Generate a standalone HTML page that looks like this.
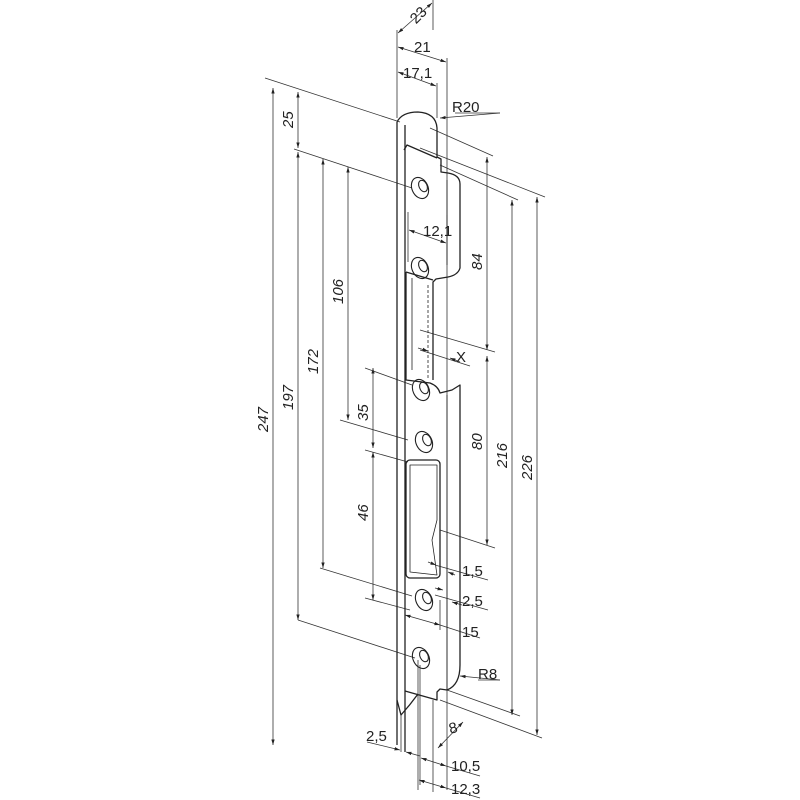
<!DOCTYPE html>
<html><head><meta charset="utf-8"><style>
html,body{margin:0;padding:0;background:#fff}
svg{display:block}
text{font-family:"Liberation Sans",sans-serif;font-size:15px;fill:#222}
</style></head><body>
<svg width="800" height="800" viewBox="0 0 800 800" xmlns="http://www.w3.org/2000/svg">
<defs>
<marker id="a" viewBox="0 0 10 10" refX="10" refY="5" markerWidth="7" markerHeight="7" orient="auto-start-reverse"><path d="M0,2 L10,5 L0,8 z" fill="#222"/></marker>
</defs>
<g stroke="#333" stroke-width="0.8" fill="none">
<!-- top dims -->
<line x1="397" y1="30" x2="397" y2="118"/>
<line x1="433" y1="0" x2="433" y2="30"/>
<line x1="398" y1="33" x2="432" y2="3" marker-start="url(#a)" marker-end="url(#a)"/>
<line x1="447" y1="58" x2="447" y2="700"/>
<line x1="398" y1="47" x2="446" y2="62" marker-start="url(#a)" marker-end="url(#a)"/>
<line x1="437" y1="83" x2="437" y2="118"/>
<line x1="398" y1="72" x2="436" y2="86" marker-start="url(#a)" marker-end="url(#a)"/>
<line x1="500" y1="113" x2="440" y2="118" marker-end="url(#a)"/>
<line x1="455" y1="113" x2="500" y2="113"/>
<!-- left vertical dims -->
<line x1="273" y1="88" x2="273" y2="745" marker-start="url(#a)" marker-end="url(#a)"/>
<line x1="298" y1="92" x2="298" y2="148" marker-start="url(#a)" marker-end="url(#a)"/>
<line x1="298" y1="152" x2="298" y2="620" marker-start="url(#a)" marker-end="url(#a)"/>
<line x1="323" y1="159" x2="323" y2="568" marker-start="url(#a)" marker-end="url(#a)"/>
<line x1="348" y1="167" x2="348" y2="420" marker-start="url(#a)" marker-end="url(#a)"/>
<line x1="373" y1="368" x2="373" y2="448" marker-start="url(#a)" marker-end="url(#a)"/>
<line x1="373" y1="452" x2="373" y2="600" marker-start="url(#a)" marker-end="url(#a)"/>
<!-- left extension lines -->
<line x1="265" y1="78" x2="400" y2="122"/>
<line x1="294" y1="149" x2="412" y2="188"/>
<line x1="340" y1="420" x2="408" y2="440"/>
<line x1="365" y1="368" x2="412" y2="385"/>
<line x1="365" y1="450" x2="408" y2="462"/>
<line x1="320" y1="568" x2="412" y2="596"/>
<line x1="365" y1="598" x2="410" y2="610"/>
<line x1="298" y1="620" x2="415" y2="658"/>
<!-- right extension lines -->
<line x1="430" y1="128" x2="493" y2="156"/>
<line x1="420" y1="148" x2="545" y2="197"/>
<line x1="440" y1="165" x2="518" y2="200"/>
<line x1="420" y1="330" x2="495" y2="352"/>
<line x1="440" y1="530" x2="495" y2="548"/>
<line x1="447" y1="690" x2="520" y2="716"/>
<line x1="440" y1="700" x2="542" y2="738"/>
<!-- right vertical dims -->
<line x1="487" y1="157" x2="487" y2="350" marker-start="url(#a)" marker-end="url(#a)"/>
<line x1="487" y1="356" x2="487" y2="545" marker-start="url(#a)" marker-end="url(#a)"/>
<line x1="512" y1="200" x2="512" y2="715" marker-start="url(#a)" marker-end="url(#a)"/>
<line x1="537" y1="197" x2="537" y2="735" marker-start="url(#a)" marker-end="url(#a)"/>
<!-- 12,1 -->
<line x1="408" y1="212" x2="408" y2="262"/>
<line x1="447" y1="215" x2="447" y2="260"/>
<line x1="409" y1="230" x2="446" y2="243" marker-start="url(#a)" marker-end="url(#a)"/>
<!-- X -->
<line x1="420" y1="350" x2="470" y2="366"/>
<line x1="418" y1="348" x2="428" y2="351" marker-end="url(#a)"/>
<line x1="460" y1="362" x2="450" y2="358" marker-end="url(#a)"/>
<!-- 1,5 / 2,5 / 15 -->
<line x1="435" y1="565" x2="488" y2="580"/>
<line x1="428" y1="562" x2="436" y2="565" marker-end="url(#a)"/>
<line x1="455" y1="575" x2="448" y2="572" marker-end="url(#a)"/>
<line x1="435" y1="595" x2="488" y2="610"/>
<line x1="435" y1="588" x2="443" y2="590" marker-end="url(#a)"/>
<line x1="462" y1="605" x2="452" y2="602" marker-end="url(#a)"/>
<line x1="405" y1="615" x2="440" y2="625" marker-start="url(#a)" marker-end="url(#a)"/>
<line x1="440" y1="625" x2="480" y2="638"/>
<line x1="440" y1="600" x2="440" y2="630"/>
<!-- R8 -->
<line x1="500" y1="680" x2="460" y2="676" marker-end="url(#a)"/>
<line x1="478" y1="680" x2="500" y2="680"/>
<!-- bottom dims -->
<line x1="401" y1="715" x2="401" y2="752"/>
<line x1="367" y1="742" x2="400" y2="750" marker-end="url(#a)"/>
<line x1="420" y1="756" x2="406" y2="752" marker-end="url(#a)"/>
<line x1="420" y1="665" x2="420" y2="785"/>
<line x1="418" y1="660" x2="418" y2="790"/>
<line x1="433" y1="700" x2="433" y2="792"/>
<line x1="447" y1="700" x2="447" y2="790"/>
<line x1="421" y1="758" x2="446" y2="766" marker-start="url(#a)" marker-end="url(#a)"/>
<line x1="446" y1="766" x2="480" y2="776"/>
<line x1="419" y1="780" x2="446" y2="788" marker-start="url(#a)" marker-end="url(#a)"/>
<line x1="446" y1="788" x2="480" y2="798"/>
<line x1="438" y1="748" x2="463" y2="722" marker-start="url(#a)" marker-end="url(#a)"/>
</g>
<!-- plate -->
<g stroke="#222" stroke-width="1.3" fill="none" stroke-linejoin="round">
<path d="M397,122 L397,745"/>
<path d="M405,125 L405,752"/>
<path d="M397,122 Q402,112 418,112 Q436,113 437,128 L437,157 L441,159 L441,172 L448,173 Q460,175 460,184 L460,268 Q458,275 448,277 L436,279 L433,282 L433,380"/>
<path d="M404,150 L407,145 L437,158"/>
<path d="M406,272 L433,280"/>
<path d="M406,272 L406,380 L430,383 Q438,386 440,393 L452,390 L460,385 L460,665 Q460,685 447,690 L440,689 L437,692 L437,700 L405,691"/>
<path d="M397,700 L401,715 Q410,705 418,694"/>
<path d="M412,278 L412,370" stroke-width="0.8"/>
<path d="M428,285 L428,380" stroke-width="0.8" stroke-dasharray="3,2"/>
<path d="M447,180 L447,265" stroke-width="0.8"/>
<path d="M447,395 L447,690" stroke-width="0.8"/>
<rect x="406" y="460" width="34" height="118" rx="4"/>
<path d="M410,465 L410,572 L437,575 L432,540 L437,520 L437,465 Z" stroke-width="0.8"/>
<g stroke-width="1.1">
<ellipse cx="420" cy="188" rx="8" ry="11" transform="rotate(-25 420 188)"/>
<ellipse cx="423" cy="186" rx="4" ry="6" transform="rotate(-25 423 186)"/>
<ellipse cx="420" cy="268" rx="8" ry="11" transform="rotate(-25 420 268)"/>
<ellipse cx="423" cy="266" rx="4" ry="6" transform="rotate(-25 423 266)"/>
<ellipse cx="421" cy="390" rx="8" ry="11" transform="rotate(-25 421 390)"/>
<ellipse cx="424" cy="388" rx="4" ry="6" transform="rotate(-25 424 388)"/>
<ellipse cx="424" cy="442" rx="8" ry="11" transform="rotate(-25 424 442)"/>
<ellipse cx="427" cy="440" rx="4" ry="6" transform="rotate(-25 427 440)"/>
<ellipse cx="424" cy="600" rx="8" ry="11" transform="rotate(-25 424 600)"/>
<ellipse cx="427" cy="598" rx="4" ry="6" transform="rotate(-25 427 598)"/>
<ellipse cx="421" cy="658" rx="8" ry="11" transform="rotate(-25 421 658)"/>
<ellipse cx="424" cy="656" rx="4" ry="6" transform="rotate(-25 424 656)"/>
</g>
</g>
<!-- labels -->
<text x="410" y="22" transform="rotate(-45 416 16)">23</text>
<text x="414" y="52">21</text>
<text x="403" y="78">17,1</text>
<text x="452" y="112">R20</text>
<text x="423" y="236">12,1</text>
<text x="456" y="362" font-size="16">X</text>
<text x="462" y="576">1,5</text>
<text x="462" y="606">2,5</text>
<text x="462" y="637">15</text>
<text x="478" y="679">R8</text>
<text x="366" y="741">2,5</text>
<text x="449" y="733" transform="rotate(-15 453 728)">8</text>
<text x="451" y="771">10,5</text>
<text x="451" y="794">12,3</text>
<g font-style="italic">
<text transform="translate(268,432) rotate(-90)">247</text>
<text transform="translate(293,128) rotate(-90)">25</text>
<text transform="translate(293,410) rotate(-90)">197</text>
<text transform="translate(318,374) rotate(-90)">172</text>
<text transform="translate(343,304) rotate(-90)">106</text>
<text transform="translate(368,421) rotate(-90)">35</text>
<text transform="translate(368,521) rotate(-90)">46</text>
<text transform="translate(482,270) rotate(-90)">84</text>
<text transform="translate(482,450) rotate(-90)">80</text>
<text transform="translate(507,468) rotate(-90)">216</text>
<text transform="translate(532,480) rotate(-90)">226</text>
</g>
</svg>
</body></html>
